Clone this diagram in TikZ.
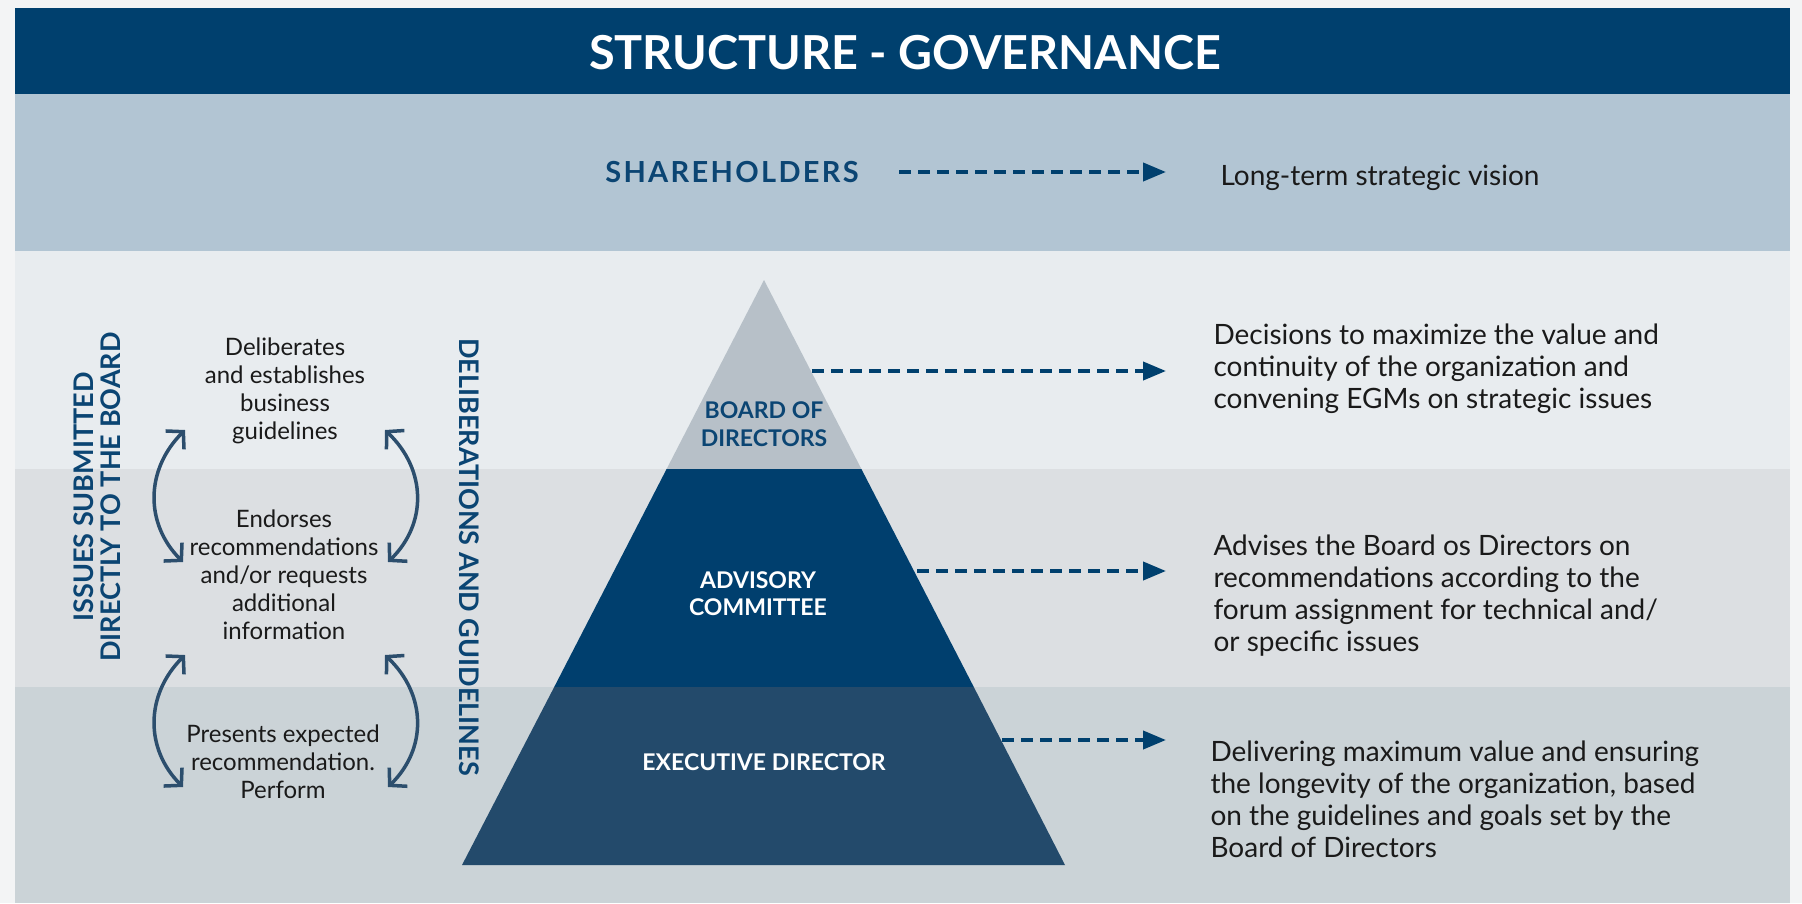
\documentclass[tikz,border=0pt]{standalone}
\usepackage{fontspec}
\setmainfont{Lato}
\usetikzlibrary{arrows.meta}
\definecolor{navy}{HTML}{00406E}
\definecolor{navytext}{HTML}{0B4573}
\definecolor{bandA}{HTML}{B2C5D3}
\definecolor{bandB}{HTML}{E8ECEF}
\definecolor{bandC}{HTML}{DCDFE2}
\definecolor{bandD}{HTML}{CBD3D7}
\definecolor{pyrtop}{HTML}{B7C0C8}
\definecolor{pyrmid}{HTML}{003F6E}
\definecolor{pyrbot}{HTML}{234A6B}
\definecolor{arccol}{HTML}{2C4E6D}
\definecolor{bodytext}{HTML}{1A1A1A}
\definecolor{pagebg}{HTML}{F3F4F5}
\tikzset{
  dasharrow/.style={navy, line width=4pt, dash pattern=on 12pt off 7pt,
    -{Triangle[length=23pt,width=18pt]}},
  arcarrow/.style={arccol, line width=3.5pt,
    {Straight Barb[length=12pt,width=26pt]}-{Straight Barb[length=12pt,width=26pt]}},
  righttext/.style={anchor=west, align=left, text=bodytext,
    font=\fontsize{28}{32}\selectfont},
  lefttext/.style={align=center, text=bodytext,
    font=\fontsize{24}{28}\selectfont},
  pyrlabel/.style={align=center, font=\bfseries\fontsize{23}{28}\selectfont},
  sidelabel/.style={align=center, text=navytext,
    font=\bfseries\fontsize{27}{27}\selectfont}
}
\begin{document}
\begin{tikzpicture}[x=1pt,y=-1pt]
\useasboundingbox (0,0) rectangle (1802,903);
\fill[pagebg] (0,0) rectangle (1802,903);
% bands
\fill[navy] (15,8) rectangle (1790,94);
\fill[bandA] (15,94) rectangle (1790,251);
\fill[bandB] (15,251) rectangle (1790,469);
\fill[bandC] (15,469) rectangle (1790,687);
\fill[bandD] (15,687) rectangle (1790,903);
% title
\node[text=white, font=\bfseries\fontsize{46.8}{50}\selectfont] (title) at (905,53) {STRUCTURE - GOVERNANCE};
% pyramid
\fill[pyrtop] (764,280) -- (861.4,469) -- (666.6,469) -- cycle;
\fill[pyrmid] (666.6,469) -- (861.4,469) -- (973.8,687) -- (554.2,687) -- cycle;
\fill[pyrbot] (554.2,687) -- (973.8,687) -- (1065,865) -- (462,865) -- cycle;
\node[pyrlabel, text=navytext] (board) at (764,424) {BOARD OF\\DIRECTORS};
\node[pyrlabel, text=white, font=\bfseries\fontsize{23}{27}\selectfont] (advisory) at (758,594) {ADVISORY\\COMMITTEE};
\node[pyrlabel, text=white] (exec) at (764,762) {EXECUTIVE DIRECTOR};
% shareholders
\node[text=navytext, font=\bfseries\fontsize{29}{30}\selectfont\addfontfeatures{LetterSpace=8}] (share) at (732,172) {SHAREHOLDERS};
\node[righttext] (vision) at (1217,178) {Long-term strategic vision};
% right texts
\node[righttext] (dec) at (1210,369) {Decisions to maximize the value and\\continuity of the organization and\\convening EGMs on strategic issues};
\node[righttext] (adv) at (1210,596) {Advises the Board os Directors on\\recommendations according to the\\forum assignment for technical and/\\or specific issues};
\node[righttext] (del) at (1207,799) {Delivering maximum value and ensuring\\the longevity of the organization, based\\on the guidelines and goals set by the\\Board of Directors};
% dashed arrows
\coordinate (sA) at (899,172);  \coordinate (eA) at (1166,172);
\coordinate (sB) at (812,371);  \coordinate (eB) at (1166,371);
\coordinate (sC) at (917,571);  \coordinate (eC) at (1166,571);
\coordinate (sD) at (1002,740); \coordinate (eD) at (1166,740);
\draw[dasharrow] (sA) -- (eA);
\draw[dasharrow] (sB) -- (eB);
\draw[dasharrow] (sC) -- (eC);
\draw[dasharrow] (sD) -- (eD);
% left side texts
\node[sidelabel, rotate=90] (issues) at (97,497) {ISSUES SUBMITTED\\DIRECTLY TO THE BOARD};
\node[sidelabel, rotate=-90] (delib) at (469,557) {DELIBERATIONS AND GUIDELINES};
\node[lefttext] (t1) at (285,391) {Deliberates\\and establishes\\business\\guidelines};
\node[lefttext] (t2) at (284,575) {Endorses\\recommendations\\and/or requests\\additional\\information};
\node[lefttext] (t3) at (283,762) {Presents expected\\recommendation.\\Perform};
% curved arrows
\coordinate (la1) at (185,430); \coordinate (lb1) at (183,562);
\coordinate (ra1) at (385,430); \coordinate (rb1) at (388,562);
\coordinate (la2) at (185,655); \coordinate (lb2) at (183,787);
\coordinate (ra2) at (385,655); \coordinate (rb2) at (388,787);
\draw[arcarrow] (la1) .. controls (145,470) and (145,524) .. (lb1);
\draw[arcarrow] (ra1) .. controls (427,470) and (427,524) .. (rb1);
\draw[arcarrow] (la2) .. controls (145,695) and (145,749) .. (lb2);
\draw[arcarrow] (ra2) .. controls (427,695) and (427,749) .. (rb2);
\end{tikzpicture}
\end{document}
